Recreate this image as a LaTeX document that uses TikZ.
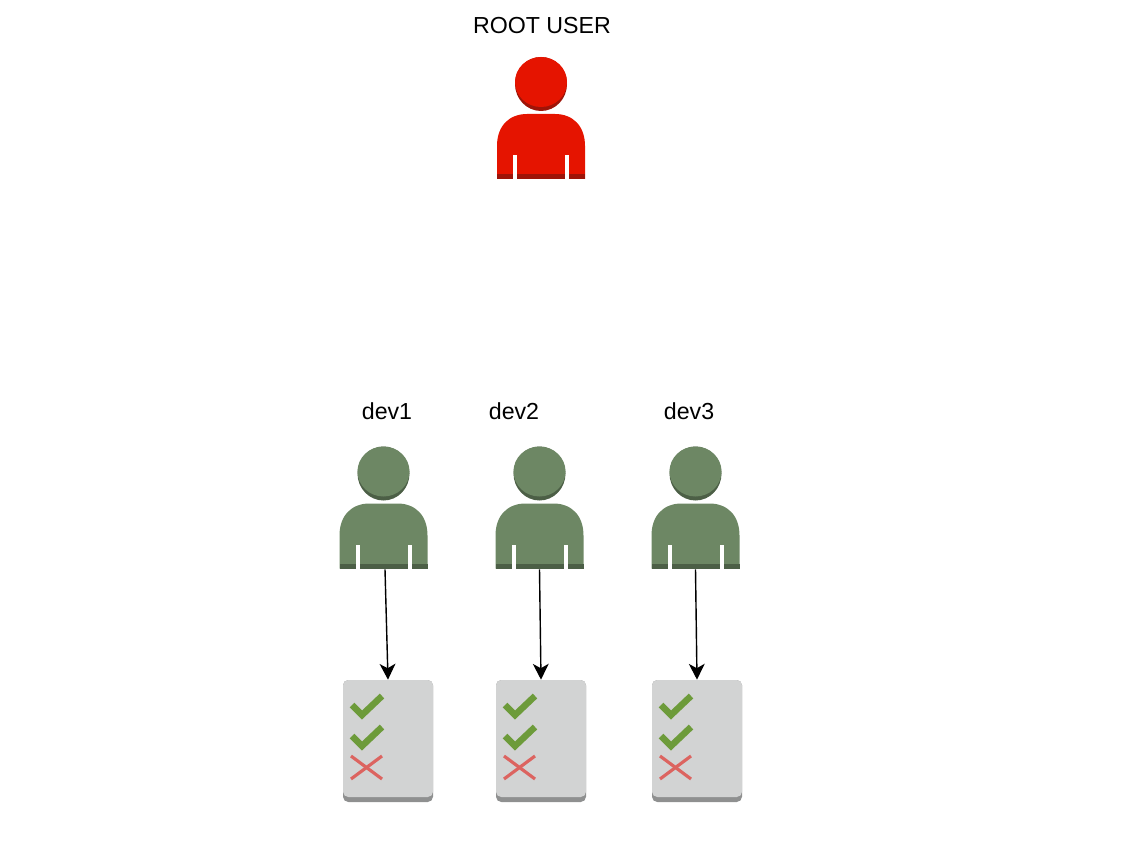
\documentclass[tikz,border=0pt]{standalone}
\usepackage{fontspec}
\setmainfont{Liberation Sans}
\usetikzlibrary{arrows.meta}

\definecolor{rootred}{HTML}{E51400}
\definecolor{rootdark}{HTML}{9E1408}
\definecolor{devgreen}{HTML}{6D8764}
\definecolor{devdark}{HTML}{4C5F46}
\definecolor{listgrey}{HTML}{D2D3D3}
\definecolor{listdark}{HTML}{8F9090}
\definecolor{tickgreen}{HTML}{6D9B3A}
\definecolor{crossred}{HTML}{DC6460}

\tikzset{
    usericon/.style={minimum width=1.76cm,minimum height=2.46cm,inner sep=0pt},
    listicon/.style={minimum width=1.8cm,minimum height=2.44cm,inner sep=0pt},
    name label/.style={font=\fontsize{13.2}{15}\selectfont,inner sep=0pt},
    access/.style={-{Stealth[length=9pt,width=9pt,inset=2.5pt]},line width=0.8pt},
    pics/person/.style 2 args={code={
        \fill[#2] (0,-34) ellipse (26 and 27);
        \fill[#1] (0,-36) ellipse (26 and 25);
        \fill[#1] (-44,61) -- (-44,28) .. controls (-44,8) and (-32,-4) .. (-14,-4)
            -- (14,-4) .. controls (32,-4) and (44,8) .. (44,28) -- (44,61) -- cycle;
        \fill[#2] (-44,56) rectangle (44,61);
        \fill[white] (-28,37) rectangle (-24,61);
        \fill[white] (24,37) rectangle (28,61);
    }},
    pics/checklist/.style={code={
        \fill[listdark,rounded corners=3pt] (-45,-61) rectangle (45,61);
        \fill[listgrey,rounded corners=3pt] (-45,-61) rectangle (45,56);
        \draw[tickgreen,line width=3.7pt] (-36,-36) -- (-26,-26) -- (-6,-45);
        \draw[tickgreen,line width=3.7pt] (-36,-5) -- (-26,5) -- (-6,-14);
        \draw[crossred,line width=1.8pt] (-37,15) -- (-6,38);
        \draw[crossred,line width=1.8pt] (-6,15) -- (-37,38);
    }}
}

\begin{document}
\begin{tikzpicture}[x=0.02cm,y=-0.02cm]
    \useasboundingbox (0,0) rectangle (1135,861);

    % users
    \node[usericon] (root) at (541,118) {};
    \node[usericon] (dev1) at (383.5,507.5) {};
    \node[usericon] (dev2) at (539.5,507.5) {};
    \node[usericon] (dev3) at (695.5,507.5) {};

    \pic at (root) {person={rootred}{rootdark}};
    \pic at (dev1) {person={devgreen}{devdark}};
    \pic at (dev2) {person={devgreen}{devdark}};
    \pic at (dev3) {person={devgreen}{devdark}};

    % names
    \node[name label] (rootname) at (542,25.5) {ROOT USER};
    \node[name label] (dev1name) at (387,411.5) {dev1};
    \node[name label] (dev2name) at (514,411.5) {dev2};
    \node[name label] (dev3name) at (689,411.5) {dev3};

    % permission lists
    \node[listicon] (list1) at (388,741) {};
    \node[listicon] (list2) at (541,741) {};
    \node[listicon] (list3) at (697,741) {};

    \pic at (list1) {checklist};
    \pic at (list2) {checklist};
    \pic at (list3) {checklist};

    \draw[access] ([xshift=0.03cm]dev1.south) -- (list1.north);
    \draw[access] (dev2.south) -- (list2.north);
    \draw[access] (dev3.south) -- (list3.north);
\end{tikzpicture}
\end{document}
